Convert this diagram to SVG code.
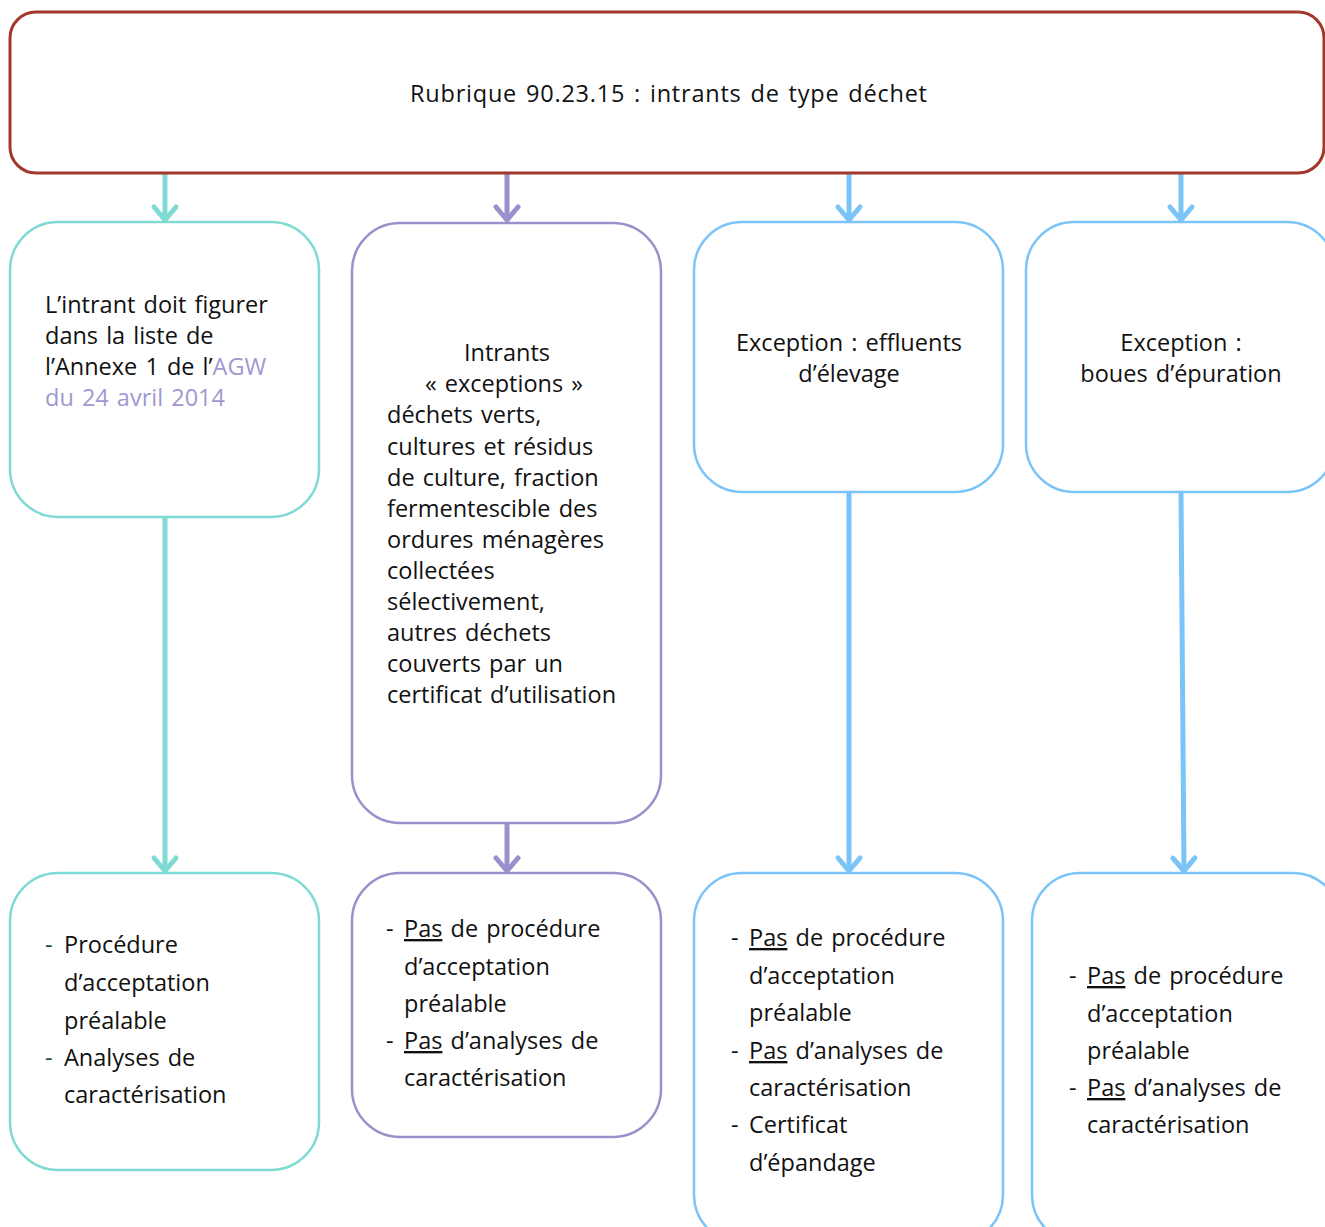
<svg xmlns="http://www.w3.org/2000/svg" width="1325" height="1227" viewBox="0 0 1325 1227">
<style>
text{font-family:"Open Sans",Lato,"Liberation Sans",sans-serif;font-size:23.5px;word-spacing:2px;fill:#111}
.c{text-anchor:middle}
.box{fill:#fff;stroke-width:2.5}
.teal{stroke:#7fdad3}
.purple{stroke:#9a90cb}
.blue{stroke:#7bc4f8}
.top{stroke:#a3372b;stroke-width:3}
.lnk{fill:none;stroke-width:5}
.agw{fill:#a098cf}
.u{text-decoration:underline}
</style>
<defs>
<marker id="aT" markerUnits="userSpaceOnUse" orient="auto" refX="0" refY="0" markerWidth="30" markerHeight="30" viewBox="-16 -15 20 30" overflow="visible"><path d="M-13,-11 L0,0 L-13,11" fill="none" stroke="#7fdad3" stroke-width="5" stroke-linecap="round" stroke-linejoin="round"/></marker>
<marker id="aP" markerUnits="userSpaceOnUse" orient="auto" refX="0" refY="0" markerWidth="30" markerHeight="30" viewBox="-16 -15 20 30" overflow="visible"><path d="M-13,-11 L0,0 L-13,11" fill="none" stroke="#9a90cb" stroke-width="5" stroke-linecap="round" stroke-linejoin="round"/></marker>
<marker id="aB" markerUnits="userSpaceOnUse" orient="auto" refX="0" refY="0" markerWidth="30" markerHeight="30" viewBox="-16 -15 20 30" overflow="visible"><path d="M-13,-11 L0,0 L-13,11" fill="none" stroke="#7bc4f8" stroke-width="5" stroke-linecap="round" stroke-linejoin="round"/></marker>
</defs>

<g id="connectors">
<path class="lnk teal" d="M165,174 L165,220" marker-end="url(#aT)"/>
<path class="lnk purple" d="M507,174 L507,220" marker-end="url(#aP)"/>
<path class="lnk blue" d="M849,174 L849,220" marker-end="url(#aB)"/>
<path class="lnk blue" d="M1181,174 L1181,220" marker-end="url(#aB)"/>
<path class="lnk teal" d="M165,518 L165,871" marker-end="url(#aT)"/>
<path class="lnk purple" d="M507,824 L507,871" marker-end="url(#aP)"/>
<path class="lnk blue" d="M849,493 L849,871" marker-end="url(#aB)"/>
<path class="lnk blue" d="M1181,493 L1184,871" marker-end="url(#aB)"/>
</g>

<g id="top">
<rect class="box top" x="10" y="12" width="1314" height="161" rx="26"/>
<text x="410" y="102" textLength="517" lengthAdjust="spacing">Rubrique 90.23.15 : intrants de type déchet</text>
</g>

<g id="n1">
<rect class="box teal" x="10" y="222" width="309" height="295" rx="48"/>
<text x="45" y="313">L’intrant doit figurer</text>
<text x="45" y="344">dans la liste de</text>
<text x="45" y="375">l’Annexe 1 de l’<tspan class="agw">AGW</tspan></text>
<text x="45" y="406" class="agw">du 24 avril 2014</text>
</g>

<g id="n2">
<rect class="box purple" x="352" y="223" width="309" height="600" rx="48"/>
<text class="c" x="507" y="361">Intrants</text>
<text class="c" x="504" y="392">« exceptions »</text>
<text x="387" y="423">déchets verts,</text>
<text x="387" y="455">cultures et résidus</text>
<text x="387" y="486">de culture, fraction</text>
<text x="387" y="517">fermentescible des</text>
<text x="387" y="548">ordures ménagères</text>
<text x="387" y="579">collectées</text>
<text x="387" y="610">sélectivement,</text>
<text x="387" y="641">autres déchets</text>
<text x="387" y="672">couverts par un</text>
<text x="387" y="703">certificat d’utilisation</text>
</g>

<g id="n3">
<rect class="box blue" x="694" y="222" width="309" height="270" rx="48"/>
<text class="c" x="849" y="351">Exception : effluents</text>
<text class="c" x="849" y="382">d’élevage</text>
</g>

<g id="n4">
<rect class="box blue" x="1026" y="222" width="309" height="270" rx="48"/>
<text class="c" x="1181" y="351">Exception :</text>
<text class="c" x="1181" y="382">boues d’épuration</text>
</g>

<g id="n5">
<rect class="box teal" x="10" y="873" width="309" height="297" rx="48"/>
<text x="45" y="953" style="fill:#1f4a45">-</text>
<text x="64" y="953">Procédure</text>
<text x="64" y="991">d’acceptation</text>
<text x="64" y="1029">préalable</text>
<text x="45" y="1066" style="fill:#1f4a45">-</text>
<text x="64" y="1066">Analyses de</text>
<text x="64" y="1103">caractérisation</text>
</g>

<g id="n6">
<rect class="box purple" x="352" y="873" width="309" height="264" rx="48"/>
<text x="386" y="937">-</text>
<text x="404" y="937"><tspan class="u">Pas</tspan> de procédure</text>
<text x="404" y="975">d’acceptation</text>
<text x="404" y="1012">préalable</text>
<text x="386" y="1049">-</text>
<text x="404" y="1049"><tspan class="u">Pas</tspan> d’analyses de</text>
<text x="404" y="1086">caractérisation</text>
</g>

<g id="n7">
<rect class="box blue" x="694" y="873" width="309" height="370" rx="48"/>
<text x="731" y="946">-</text>
<text x="749" y="946"><tspan class="u">Pas</tspan> de procédure</text>
<text x="749" y="984">d’acceptation</text>
<text x="749" y="1021">préalable</text>
<text x="731" y="1059">-</text>
<text x="749" y="1059"><tspan class="u">Pas</tspan> d’analyses de</text>
<text x="749" y="1096">caractérisation</text>
<text x="731" y="1133">-</text>
<text x="749" y="1133">Certificat</text>
<text x="749" y="1171">d’épandage</text>
</g>

<g id="n8">
<rect class="box blue" x="1032" y="873" width="309" height="370" rx="48"/>
<text x="1069" y="984">-</text>
<text x="1087" y="984"><tspan class="u">Pas</tspan> de procédure</text>
<text x="1087" y="1022">d’acceptation</text>
<text x="1087" y="1059">préalable</text>
<text x="1069" y="1096">-</text>
<text x="1087" y="1096"><tspan class="u">Pas</tspan> d’analyses de</text>
<text x="1087" y="1133">caractérisation</text>
</g>
</svg>
